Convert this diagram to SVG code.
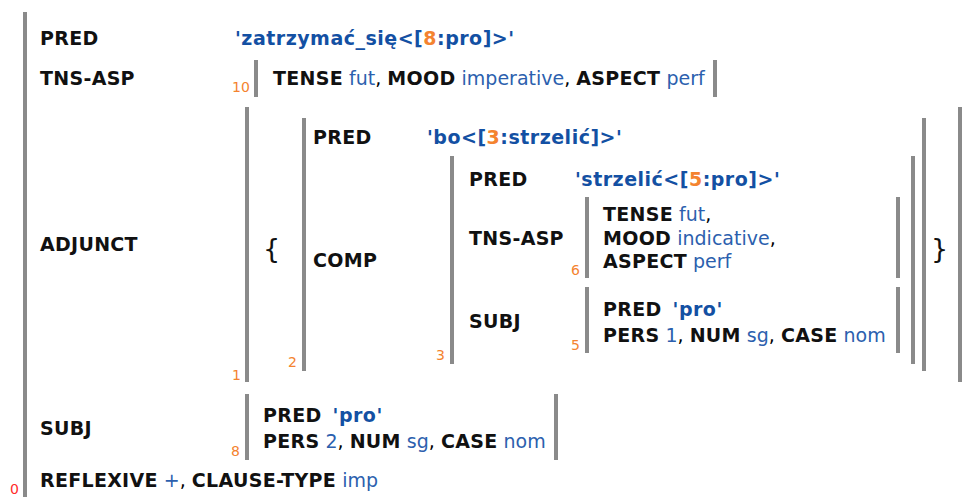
<svg xmlns="http://www.w3.org/2000/svg" width="965" height="497" viewBox="0 0 965 497">
<style>
text{font-family:"DejaVu Sans",Verdana,sans-serif;font-size:19px}
.k{font-weight:bold;fill:#111;letter-spacing:0.3px}
.v{fill:#2c5fae}
.p{font-weight:bold;fill:#1350a3;letter-spacing:0.5px}
.o{fill:#f4832f}
.n{font-size:14px;fill:#f4832f}
.z{font-size:14px;fill:#ff2b2b}
.br{fill:#111;font-size:27px}
line{stroke:#8a8a8a;stroke-width:4}
</style>
<rect width="965" height="497" fill="#fff"/>
<g id="f0">
<line x1="25" y1="12" x2="25" y2="497"/>
<text class="z" x="10" y="494">0</text>
<text class="k" x="40" y="45">PRED</text>
<text class="p" x="235" y="45">'zatrzymać_się&lt;[<tspan class="o">8</tspan>:pro]&gt;'</text>
<text class="k" x="40" y="85">TNS-ASP</text>
<text class="k" x="40" y="251">ADJUNCT</text>
<text class="k" x="40" y="435">SUBJ</text>
<text x="40" y="487"><tspan class="k">REFLEXIVE</tspan> <tspan class="v">+</tspan>, <tspan class="k">CLAUSE-TYPE</tspan> <tspan class="v">imp</tspan></text>
</g>
<g id="f10">
<line x1="256" y1="60" x2="256" y2="97"/>
<line x1="715" y1="60" x2="715" y2="97"/>
<text class="n" x="232" y="92">10</text>
<text x="273" y="85"><tspan class="k">TENSE</tspan> <tspan class="v">fut</tspan>, <tspan class="k">MOOD</tspan> <tspan class="v">imperative</tspan>, <tspan class="k">ASPECT</tspan> <tspan class="v">perf</tspan></text>
</g>
<g id="f1">
<line x1="247" y1="107" x2="247" y2="382"/>
<line x1="960" y1="107" x2="960" y2="382"/>
<text class="n" x="232" y="380">1</text>
<text class="br" x="263" y="258">{</text>
<text class="br" x="931" y="258">}</text>
</g>
<g id="f2">
<line x1="304" y1="118" x2="304" y2="371"/>
<line x1="924" y1="118" x2="924" y2="371"/>
<text class="n" x="288" y="367">2</text>
<text class="k" x="313" y="144">PRED</text>
<text class="p" x="427" y="144">'bo&lt;[<tspan class="o">3</tspan>:strzelić]&gt;'</text>
<text class="k" x="313" y="267">COMP</text>
</g>
<g id="f3">
<line x1="452" y1="156" x2="452" y2="364"/>
<line x1="913" y1="156" x2="913" y2="364"/>
<text class="n" x="436" y="360">3</text>
<text class="k" x="469" y="186">PRED</text>
<text class="p" x="575" y="186">'strzelić&lt;[<tspan class="o">5</tspan>:pro]&gt;'</text>
<text class="k" x="469" y="245">TNS-ASP</text>
<text class="k" x="469" y="328">SUBJ</text>
</g>
<g id="f6">
<line x1="587" y1="197" x2="587" y2="278"/>
<line x1="898" y1="197" x2="898" y2="278"/>
<text class="n" x="571" y="275">6</text>
<text x="603" y="221"><tspan class="k">TENSE</tspan> <tspan class="v">fut</tspan>,</text>
<text x="603" y="245"><tspan class="k">MOOD</tspan> <tspan class="v">indicative</tspan>,</text>
<text x="603" y="268"><tspan class="k">ASPECT</tspan> <tspan class="v">perf</tspan></text>
</g>
<g id="f5">
<line x1="587" y1="287" x2="587" y2="353"/>
<line x1="898" y1="287" x2="898" y2="353"/>
<text class="n" x="571" y="350">5</text>
<text x="603" y="316"><tspan class="k">PRED</tspan> <tspan class="p" dx="5">'pro'</tspan></text>
<text x="603" y="342"><tspan class="k">PERS</tspan> <tspan class="v">1</tspan>, <tspan class="k">NUM</tspan> <tspan class="v">sg</tspan>, <tspan class="k">CASE</tspan> <tspan class="v">nom</tspan></text>
</g>
<g id="f8">
<line x1="247" y1="394" x2="247" y2="460"/>
<line x1="556" y1="394" x2="556" y2="460"/>
<text class="n" x="231" y="456">8</text>
<text x="263" y="422"><tspan class="k">PRED</tspan> <tspan class="p" dx="5">'pro'</tspan></text>
<text x="263" y="448"><tspan class="k">PERS</tspan> <tspan class="v">2</tspan>, <tspan class="k">NUM</tspan> <tspan class="v">sg</tspan>, <tspan class="k">CASE</tspan> <tspan class="v">nom</tspan></text>
</g>
<g id="connectors"></g>
</svg>
